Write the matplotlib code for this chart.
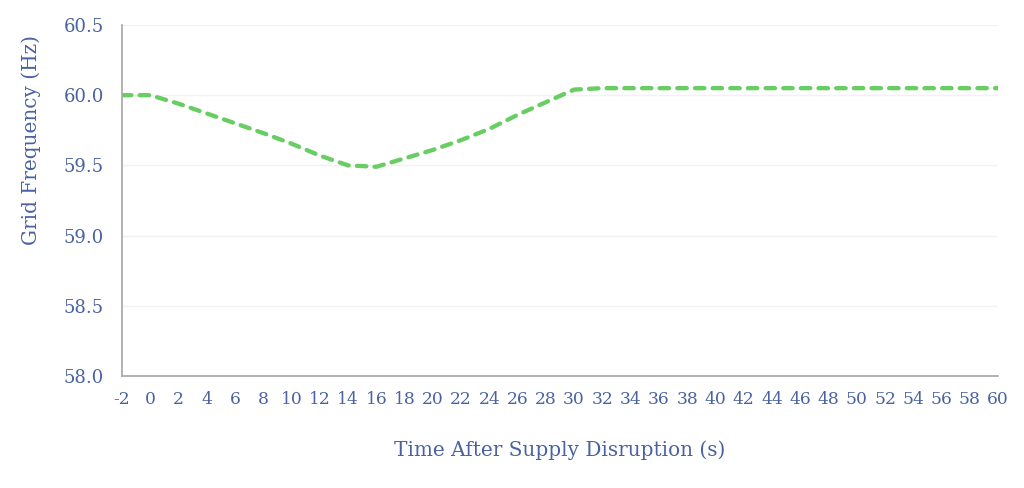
import matplotlib
matplotlib.use("Agg")
import matplotlib.pyplot as plt

time_s = [-2, 0, 2, 4, 6, 8, 10, 12, 14, 16, 18, 20, 22, 24, 26, 28, 30,
          32, 34, 36, 38, 40, 42, 44, 46, 48, 50, 52, 54, 56, 58, 60]
frequency_hz = [60.00, 60.00, 59.94, 59.87, 59.80, 59.73, 59.655, 59.57, 59.50,
                59.49, 59.55, 59.61, 59.68, 59.76, 59.86, 59.95, 60.04,
                60.05, 60.05, 60.05, 60.05, 60.05, 60.05, 60.05, 60.05, 60.05,
                60.05, 60.05, 60.05, 60.05, 60.05, 60.05]
y_ticks = [58.0, 58.5, 59.0, 59.5, 60.0, 60.5]

text_color = "#4A62A0"
plt.rcParams['font.family'] = ['DejaVu Serif']

fig = plt.figure(figsize=(10.24, 4.88), dpi=100)
ax = fig.add_axes([0.1191, 0.2295, 0.8555, 0.7193])

ax.plot(time_s, frequency_hz, color="#68CD62", linewidth=3.1,
        linestyle=(0, (2.2, 1.9)), solid_capstyle='round', dash_capstyle='round',
        solid_joinstyle='round', dash_joinstyle='round')

ax.set_xlim(-2, 60)
ax.set_ylim(58.0, 60.5)
ax.set_xticks(time_s)
ax.set_xticklabels([str(t) for t in time_s])
ax.set_yticks(y_ticks)
ax.set_yticklabels([f"{v:.1f}" for v in y_ticks])
ax.grid(axis='y', color="#F2F2F2", linewidth=1.0)
ax.set_axisbelow(True)

for s in ['top', 'right']:
    ax.spines[s].set_visible(False)
for s in ['left', 'bottom']:
    ax.spines[s].set_color("#A6A6A6")
    ax.spines[s].set_linewidth(1.2)

ax.tick_params(axis='x', length=0, labelcolor=text_color, labelsize=12.3, pad=11)
ax.tick_params(axis='y', length=0, labelcolor=text_color, labelsize=13, pad=13)

ax.set_xlabel("Time After Supply Disruption (s)", color=text_color, fontsize=14.4, labelpad=23)
ax.set_ylabel("Grid Frequency (Hz)", color=text_color, fontsize=14.4)
ax.yaxis.set_label_coords(-0.092, 0.672)

fig.savefig("out.png", dpi=100, facecolor="white")
